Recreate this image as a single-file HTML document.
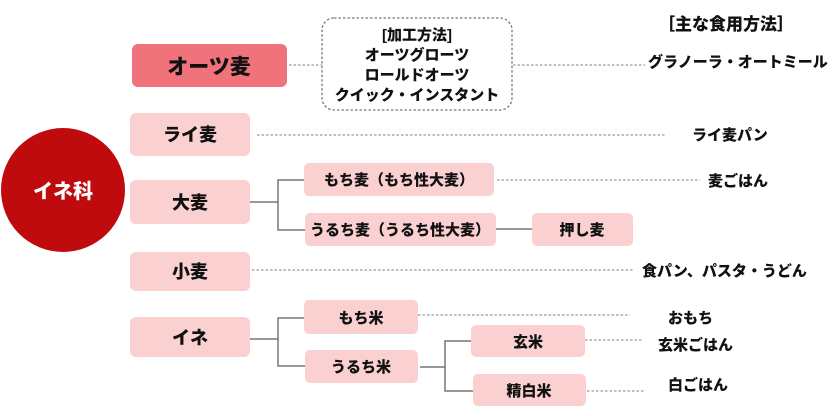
<!DOCTYPE html>
<html><head><meta charset="utf-8"><style>
html,body{margin:0;padding:0;background:#fff;}
svg text{font-family:"Liberation Sans","Noto Sans CJK JP",sans-serif;font-weight:900;fill:#111;}
</style></head><body>
<svg width="840" height="411" viewBox="0 0 840 411" xmlns="http://www.w3.org/2000/svg">
<g stroke="#999" stroke-width="1.3" stroke-dasharray="2.5,2" fill="none">
<rect x="322" y="18" width="190" height="92" rx="12" stroke="#777"/>
<line x1="289" y1="65" x2="322" y2="65"/>
<line x1="513" y1="65" x2="645" y2="65"/>
<line x1="257" y1="135" x2="665" y2="135"/>
<line x1="497" y1="180" x2="700" y2="180"/>
<line x1="252" y1="270" x2="633" y2="270"/>
<line x1="418" y1="315" x2="630" y2="315"/>
<line x1="585" y1="340" x2="642" y2="340"/>
<line x1="587" y1="391" x2="645" y2="391"/>
</g>
<g stroke="#777" stroke-width="1.5" fill="none">
<polyline points="250,202 278,202"/>
<polyline points="304,180 278,180 278,230 305,230"/>
<line x1="496" y1="229" x2="532" y2="229"/>
<polyline points="250,339 278,339"/>
<polyline points="304,318 278,318 278,366 305,366"/>
<line x1="420" y1="367" x2="445" y2="367"/>
<polyline points="471,341 445,341 445,391 473,391"/>
</g>
<circle cx="63" cy="190" r="62" fill="#c00b0e"/>
<text x="63" y="198" font-size="20" text-anchor="middle" style="fill:#fff">イネ科</text>
<rect x="132" y="44" width="155" height="43" rx="6" fill="#f0727a"/>
<text x="209" y="74" font-size="21" text-anchor="middle">オーツ麦</text>
<g fill="#fbd0d0">
<rect x="130" y="113" width="120" height="43" rx="6"/>
<rect x="130" y="180" width="120" height="44" rx="6"/>
<rect x="130" y="252" width="120" height="39" rx="6"/>
<rect x="130" y="317" width="120" height="40" rx="6"/>
<rect x="304" y="163" width="190" height="33" rx="5"/>
<rect x="305" y="213" width="191" height="33" rx="5"/>
<rect x="532" y="213" width="101" height="33" rx="5"/>
<rect x="304" y="300" width="114" height="34" rx="5"/>
<rect x="305" y="350" width="113" height="33" rx="5"/>
<rect x="471" y="325" width="114" height="32" rx="5"/>
<rect x="473" y="374" width="113" height="32" rx="5"/>
</g>
<g font-size="18" text-anchor="middle">
<text x="190" y="141">ライ麦</text>
<text x="190" y="209">大麦</text>
<text x="190" y="278">小麦</text>
<text x="190" y="344">イネ</text>
</g>
<g font-size="15" text-anchor="middle">
<text x="399" y="185">もち麦（もち性大麦）</text>
<text x="400" y="235">うるち麦（うるち性大麦）</text>
<text x="582" y="235">押し麦</text>
<text x="361" y="323">もち米</text>
<text x="361" y="372">うるち米</text>
<text x="528" y="347">玄米</text>
<text x="529" y="396">精白米</text>
<text x="417" y="40">[加工方法]</text>
<text x="417" y="60">オーツグローツ</text>
<text x="417" y="80">ロールドオーツ</text>
<text x="417" y="100">クイック・インスタント</text>
</g>
<text x="658" y="30" font-size="17">［主な食用方法］</text>
<g font-size="15">
<text x="648" y="67">グラノーラ・オートミール</text>
<text x="692" y="140">ライ麦パン</text>
<text x="708" y="186">麦ごはん</text>
<text x="642" y="276">食パン、パスタ・うどん</text>
<text x="668" y="323">おもち</text>
<text x="658" y="350">玄米ごはん</text>
<text x="668" y="390">白ごはん</text>
</g>
</svg>
</body></html>
